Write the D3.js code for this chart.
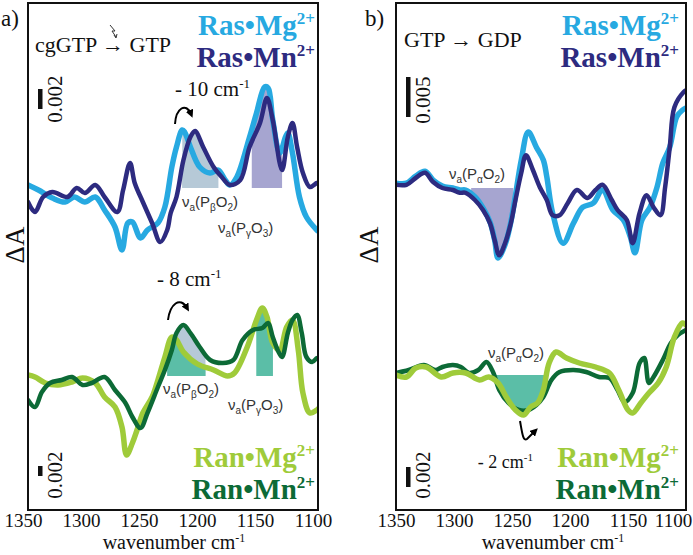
<!DOCTYPE html>
<html><head><meta charset="utf-8">
<script src="https://cdn.jsdelivr.net/npm/d3@7"></script>
<style>body{margin:0;background:#fff}svg{display:block}</style>
</head><body>
<svg id="c" width="693" height="555"></svg>
<script>
// ---------------- DATA (wavenumber cm-1, ΔA in 10^-3) ----------------
const ticksWn = [1350, 1300, 1250, 1200, 1150, 1100];

// panel a, upper: cgGTP -> GTP, Ras
const rasMgA = [[1350,0.3],[1341,-0.2],[1329,-1.0],[1318,-1.4],[1310,-0.9],[1301,-1.4],[1292,-0.9],[1284,-2.2],[1275,-3.9],[1269,-6.2],[1264,-3.5],[1260,-3.4],[1253,-5.0],[1247,-4.2],[1238,-3.5],[1232,-1.9],[1226,2.1],[1222,4.1],[1217,5.8],[1215,5.6],[1210,4.1],[1202,2.1],[1193,1.5],[1186,1.8],[1180,0.8],[1176,0.3],[1170,1.1],[1159,5.1],[1153,7.5],[1146,10.1],[1143,10.0],[1139,6.8],[1133,3.5],[1128,5.1],[1126,5.5],[1122,3.5],[1116,-0.9],[1110,-2.9],[1101,-4.2],[1100,-4.3]];
const rasMnA = [[1350,-1.4],[1344,-2.4],[1337,-0.9],[1329,-0.4],[1316,-0.9],[1308,0],[1301,-0.5],[1292,0.3],[1284,-0.9],[1273,-2.4],[1268,-0.2],[1262,2.5],[1258,0.5],[1251,-1.4],[1243,-3.5],[1236,-5.4],[1230,-4.2],[1227,-2.5],[1222,-0.9],[1216,2.8],[1210,5.1],[1206,5.7],[1199,4.1],[1190,2.1],[1183,1.1],[1176,0.3],[1167,0.8],[1159,4.1],[1150,6.5],[1144,9.0],[1139,6.8],[1131,1.8],[1126,5.1],[1122,6.5],[1118,4.1],[1113,1.5],[1107,0.1],[1101,0.5],[1100,0.5]];

// panel a, lower: cgGTP -> GTP, Ran
const ranMgA = [[1350,0.2],[1344,-0.2],[1335,-1.4],[1324,-1.8],[1312,-1.2],[1303,-0.4],[1292,-1.4],[1284,-4.2],[1275,-6.2],[1269,-10.2],[1265,-15.8],[1260,-13.4],[1256,-10.8],[1251,-7.4],[1243,-4.2],[1238,-0.8],[1232,3.8],[1226,7.8],[1222,7.2],[1216,4.8],[1204,2.4],[1190,1.2],[1178,0],[1172,0.6],[1161,5.8],[1153,11.2],[1148,13.6],[1144,11.8],[1139,6.6],[1133,5.2],[1127,9.8],[1122,11.2],[1117,5.2],[1113,-3.4],[1107,-7.4],[1101,-6.8],[1100,-6.6]];
const ranMnA = [[1350,-4.8],[1344,-6.2],[1338,-3.2],[1331,-1.4],[1321,-0.8],[1312,-0.2],[1303,-1.8],[1295,-1.4],[1284,-0.2],[1275,-2.8],[1266,-5.4],[1260,-8.2],[1253,-10.4],[1247,-7.4],[1238,-2.2],[1232,1.2],[1226,5.2],[1222,8.6],[1216,10.2],[1210,8.6],[1202,5.8],[1193,3.2],[1182,2.6],[1173,3.2],[1165,7.2],[1156,9.2],[1148,9.6],[1143,10.6],[1139,7.8],[1134,4.8],[1131,3.8],[1126,8.6],[1122,11.2],[1118,12.2],[1114,8.6],[1110,3.8],[1105,2.8],[1101,3.6],[1100,3.6]];

// panel b, upper: GTP -> GDP, Ras
const rasMgB = [[1350,0.6],[1341,0.6],[1333,1.5],[1325,2.1],[1318,1.0],[1310,0.25],[1301,0],[1295,-0.25],[1290,-0.25],[1282,-1.1],[1275,-2.5],[1269,-4.25],[1265,-6.5],[1262,-8.75],[1256,-7.1],[1251,-4.25],[1247,-0.9],[1242,3.5],[1236,7.0],[1229,5.1],[1223,3.5],[1220,1.4],[1215,-3.1],[1206,-6.9],[1197,-4.4],[1189,-2.4],[1180,-1.9],[1172,-0.25],[1163,-2.75],[1154,-4],[1148,-6.1],[1144,-8.1],[1138,-4],[1131,-2.4],[1125,0.1],[1120,3.1],[1114,5.1],[1108,8.9],[1103,9.75],[1100,10]];
const rasMnB = [[1350,0.4],[1341,0.4],[1333,1.25],[1325,1.9],[1318,0.75],[1310,0],[1301,-0.25],[1295,-0.6],[1290,-0.6],[1282,-1.5],[1275,-2.75],[1269,-4.4],[1265,-6.5],[1261,-8.4],[1256,-6.9],[1251,-4.4],[1247,-1.5],[1242,1.9],[1238,4.1],[1232,2.25],[1226,0.1],[1220,-1.5],[1215,-3.4],[1209,-3.4],[1202,-1.9],[1194,-0.25],[1185,-1.25],[1178,-0.25],[1172,0.4],[1164,-1.5],[1159,-2.75],[1151,-4],[1146,-6.9],[1140,-3.1],[1134,-0.9],[1128,-2.4],[1122,-3.4],[1118,0.1],[1114,5.1],[1110,10.1],[1102,12.0],[1100,12.2]];

// panel b, lower: GTP -> GDP, Ran
const ranMgB = [[1350,0],[1341,-0.2],[1333,0.7],[1324,0.8],[1311,-0.2],[1301,0.2],[1290,0.2],[1278,-0.5],[1270,-0.2],[1262,-0.8],[1255,-2.2],[1247,-3.5],[1240,-4.0],[1234,-3.2],[1228,-2.8],[1223,-1.5],[1218,1.2],[1212,2.3],[1203,1.7],[1192,1.2],[1178,0.8],[1166,0.2],[1158,-1.5],[1150,-3.5],[1146,-3.8],[1139,-2.8],[1132,-1.8],[1124,-0.8],[1117,0.8],[1110,3.8],[1103,5.2],[1100,5.0]];
const ranMnB = [[1350,0.2],[1339,0.5],[1326,1.0],[1316,0.5],[1310,0.8],[1301,1.0],[1294,0.8],[1287,0.2],[1279,0.5],[1272,1.3],[1266,0.2],[1261,-1.5],[1253,-2.8],[1244,-3.5],[1236,-3.5],[1229,-3.0],[1223,-2.2],[1216,-0.5],[1209,0.3],[1197,0.5],[1186,0.3],[1175,-0.2],[1166,-0.3],[1159,-1.5],[1153,-2.7],[1146,-1.8],[1140,1.2],[1136,1.7],[1132,-0.8],[1128,-0.2],[1120,1.5],[1113,3.2],[1107,4.0],[1100,4.5]];

// shaded band ranges [from, to] in cm-1
const bandPbA = [1217, 1186], bandPgA = [1157, 1131];
const bandPbA2 = [1230, 1197], bandPgA2 = [1153, 1139];
const bandPaB = [1285, 1249], bandPaB2 = [1266, 1219];
// scale bars (ΔA, 10^-3)
const barA = 2, barA2 = 2, barB = 5, barB2 = 2;

// ---------------- STYLE ----------------
const C = {mgBlue:"#27a9e1", mnNavy:"#2d2b80", mgGreen:"#9fcb3a", mnGreen:"#0c6a36",
  grayBlue:"#b6c9d7", lav:"#a6a5d0", teal:"#5bbea7"};
const SERIF = "Liberation Serif, Times New Roman, serif";
const SANS = "Liberation Sans, Arial, sans-serif";

const svg = d3.select("#c");

const xA = d3.scaleLinear().domain([1350,1100]).range([28,318]);
const xB = d3.scaleLinear().domain([1350,1100]).range([396,686]);
const yTopA = d3.scaleLinear().domain([0,1]).range([188,178]);
const yBotA = d3.scaleLinear().domain([0,1]).range([376,371]);
const yTopB = d3.scaleLinear().domain([0,1]).range([188,180]);
const yBotB = d3.scaleLinear().domain([0,1]).range([375,365]);

const defs = svg.append("defs");
defs.append("clipPath").attr("id","clipA").append("rect").attr("x",28).attr("y",3).attr("width",290).attr("height",507);
defs.append("clipPath").attr("id","clipB").append("rect").attr("x",396).attr("y",3).attr("width",290).attr("height",507);
defs.append("marker").attr("id","ah").attr("viewBox","0 0 10 10").attr("refX",5).attr("refY",5)
  .attr("markerWidth",4).attr("markerHeight",4).attr("orient","auto-start-reverse")
  .append("path").attr("d","M0,0 L10,5 L0,10 z").attr("fill","#000");

function interp(data, w){
  for(let i=0;i<data.length-1;i++){
    const a=data[i], b=data[i+1];
    if((w<=a[0] && w>=b[0])){ const t=(a[0]-w)/(a[0]-b[0]); return a[1]+t*(b[1]-a[1]); }
  }
  return data[data.length-1][1];
}
function bandPts(data, band){
  const pts=[[band[0], interp(data,band[0])]];
  data.forEach(d=>{ if(d[0]<band[0] && d[0]>band[1]) pts.push(d); });
  pts.push([band[1], interp(data,band[1])]);
  return pts;
}
function shade(g, x, y, data, band, color){
  const area = d3.area().x(d=>x(d[0])).y0(y(0)).y1(d=>y(d[1])).curve(d3.curveLinear);
  g.append("path").attr("d", area(bandPts(data,band))).attr("fill", color).attr("stroke","none");
}
function curve(g, x, y, data, color, w){
  const line = d3.line().x(d=>x(d[0])).y(d=>y(d[1])).curve(d3.curveCatmullRom.alpha(0.5));
  g.append("path").attr("d", line(data)).attr("fill","none").attr("stroke",color)
    .attr("stroke-width",w).attr("stroke-linejoin","round").attr("stroke-linecap","round");
}

// ---------- panel a ----------
const gA = svg.append("g").attr("clip-path","url(#clipA)");
shade(gA,xA,yTopA,rasMgA,bandPbA,C.grayBlue);
shade(gA,xA,yTopA,rasMnA,bandPbA,C.grayBlue);
shade(gA,xA,yTopA,rasMgA,bandPgA,C.lav);
shade(gA,xA,yTopA,rasMnA,bandPgA,C.lav);
shade(gA,xA,yBotA,ranMnA,bandPbA2,C.grayBlue);
shade(gA,xA,yBotA,ranMgA,bandPbA2,C.teal);
shade(gA,xA,yBotA,ranMgA,bandPgA2,C.teal);
shade(gA,xA,yBotA,ranMnA,bandPgA2,C.teal);
curve(gA,xA,yTopA,rasMgA,C.mgBlue,5.5);
curve(gA,xA,yTopA,rasMnA,C.mnNavy,4.5);
curve(gA,xA,yBotA,ranMgA,C.mgGreen,5.5);
curve(gA,xA,yBotA,ranMnA,C.mnGreen,4.5);

// ---------- panel b ----------
const gB = svg.append("g").attr("clip-path","url(#clipB)");
shade(gB,xB,yTopB,rasMgB,bandPaB,C.lav);
shade(gB,xB,yTopB,rasMnB,bandPaB,C.lav);
shade(gB,xB,yBotB,ranMgB,bandPaB2,C.teal);
shade(gB,xB,yBotB,ranMnB,bandPaB2,C.teal);
curve(gB,xB,yTopB,rasMgB,C.mgBlue,5.5);
curve(gB,xB,yTopB,rasMnB,C.mnNavy,4.5);
curve(gB,xB,yBotB,ranMnB,C.mnGreen,4.5);
curve(gB,xB,yBotB,ranMgB,C.mgGreen,5.5);

// ---------- frames & axes ----------
[[28,318],[396,686]].forEach(r=>{
  svg.append("rect").attr("x",r[0]).attr("y",3).attr("width",r[1]-r[0]).attr("height",507)
    .attr("fill","none").attr("stroke","#111").attr("stroke-width",2);
});
function xaxis(x, shift){
  const g = svg.append("g").attr("transform","translate(0,510)")
    .call(d3.axisBottom(x).tickValues(ticksWn).tickSize(0).tickPadding(4).tickFormat(d3.format("d")));
  g.attr("font-family",SERIF).attr("font-size",19);
  g.select(".domain").remove();
  g.selectAll("text").attr("font-family",SERIF).attr("font-size",19).attr("fill","#111").attr("dx",shift);
  return g;
}
xaxis(xA,-5);
const axB = xaxis(xB,0);
axB.selectAll("text").filter(d=>d===1100).attr("dx",-13);

function txt(x,y,s,opt={}){
  return svg.append("text").attr("x",x).attr("y",y).attr("font-family",opt.ff||SERIF)
    .attr("font-size",opt.fs||19).attr("fill",opt.fill||"#111").attr("font-weight",opt.fw||"normal")
    .attr("text-anchor",opt.anchor||"start").text(s);
}
function withSup(t, base, sup, supSize, dy){
  t.text(null);
  t.append("tspan").text(base);
  t.append("tspan").attr("dy",-dy).attr("font-size",supSize).text(sup);
  return t;
}
// x labels
withSup(txt(174,549,"",{fs:20,anchor:"middle"}),"wavenumber cm","-1",12,7);
withSup(txt(553,549,"",{fs:20,anchor:"middle"}),"wavenumber cm","-1",12,7);

// ΔA labels
svg.append("text").attr("transform","translate(24,245) rotate(-90)").attr("text-anchor","middle")
  .attr("font-family",SERIF).attr("font-size",27).attr("fill","#111").text("ΔA");
svg.append("text").attr("transform","translate(378,245) rotate(-90)").attr("text-anchor","middle")
  .attr("font-family",SERIF).attr("font-size",27).attr("fill","#111").text("ΔA");

// panel tags
txt(1,26,"a)",{fs:23});
txt(365,26,"b)",{fs:23});
txt(35,52,"cgGTP → GTP",{fs:22});
txt(404,47,"GTP → GDP",{fs:22});
// flash symbol
svg.append("path").attr("d","M110,25 L115,31 L112,31 L116,37").attr("fill","none").attr("stroke","#333").attr("stroke-width",1);
svg.append("path").attr("d","M114,35 L116,38 L117,34").attr("fill","none").attr("stroke","#333").attr("stroke-width",1);

// legends
function legend(xEnd, y, base, color){
  withSup(txt(xEnd,y,"",{fs:29,fw:"bold",fill:color,anchor:"end"}), base, "2+", 17, 11);
}
legend(315,35,"Ras•Mg",C.mgBlue);
legend(315,67,"Ras•Mn",C.mnNavy);
legend(679,35,"Ras•Mg",C.mgBlue);
legend(679,67,"Ras•Mn",C.mnNavy);
legend(315,467,"Ran•Mg",C.mgGreen);
legend(315,499,"Ran•Mn",C.mnGreen);
legend(679,467,"Ran•Mg",C.mgGreen);
legend(679,499,"Ran•Mn",C.mnGreen);

// shift annotations
withSup(txt(175,96,"",{fs:21}),"- 10 cm","-1",13,8);
withSup(txt(157,286,"",{fs:21}),"- 8 cm","-1",13,8);
withSup(txt(533,468,"",{fs:18,anchor:"end"}),"- 2 cm","-1",11,7);
svg.append("path").attr("d","M175,124 C176,108 186,102 191,114").attr("fill","none").attr("stroke","#000").attr("stroke-width",2).attr("marker-end","url(#ah)");
svg.append("path").attr("d","M168,320 C170,304 180,296 187,308").attr("fill","none").attr("stroke","#000").attr("stroke-width",2).attr("marker-end","url(#ah)");
svg.append("path").attr("d","M520,421 C522,432 523,442 527,439 L535,431").attr("fill","none").attr("stroke","#000").attr("stroke-width",2).attr("marker-end","url(#ah)");

// band labels
function nu(x,y,sub1,sub2){
  const t = svg.append("text").attr("x",x).attr("y",y).attr("font-family",SANS).attr("font-size",15).attr("fill","#333");
  t.append("tspan").text("ν");
  t.append("tspan").attr("dy",4).attr("font-size",10).text("a");
  t.append("tspan").attr("dy",-4).text("(P");
  t.append("tspan").attr("dy",4).attr("font-size",10).text(sub1);
  t.append("tspan").attr("dy",-4).text("O");
  t.append("tspan").attr("dy",4).attr("font-size",10).text(sub2);
  t.append("tspan").attr("dy",-4).text(")");
}
nu(182,207,"β","2");
nu(218,233,"γ","3");
nu(163,394,"β","2");
nu(228,410,"γ","3");
nu(449,179,"α","2");
nu(488,358,"α","2");

// scale bars
function sbar(x, yTop, yScale, val, label, labelY){
  const len = yScale(0) - yScale(val);
  svg.append("rect").attr("x",x-2).attr("y",yTop).attr("width",4.5).attr("height",len).attr("fill","#111");
  svg.append("text").attr("transform",`translate(${x+22},${labelY}) rotate(-90)`)
    .attr("text-anchor","middle").attr("font-family",SERIF).attr("font-size",21).attr("fill","#111").text(label);
}
sbar(40,89,yTopA,barA,"0.002",99);
sbar(40,466,yBotA,barA2,"0.002",475);
sbar(408,77,yTopB,barB,"0.005",100);
sbar(408,467,yBotB,barB2,"0.002",475);
</script>
</body></html>
